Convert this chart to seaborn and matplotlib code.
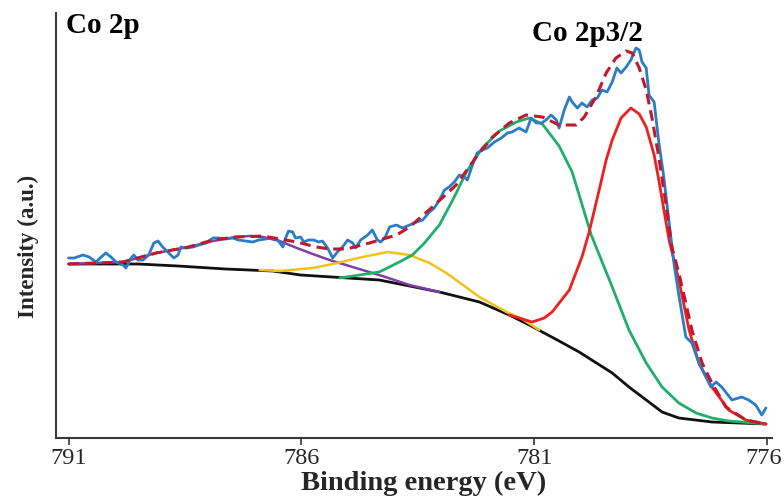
import matplotlib
matplotlib.use("Agg")
import matplotlib.pyplot as plt
import matplotlib.transforms as mtransforms
import pandas as pd
import seaborn as sns

# Co 2p XPS spectrum: binding energy (eV) and intensity (a.u.)
raw_energy = [791.00, 790.88, 790.69, 790.56, 790.41, 790.30, 790.20, 790.09, 789.98, 789.83,
              789.77, 789.66, 789.60, 789.51, 789.40, 789.28, 789.17, 789.08, 788.98, 788.87,
              788.74, 788.65, 788.59, 788.48, 788.33, 788.20, 788.05, 787.90, 787.78, 787.63,
              787.48, 787.35, 787.20, 787.05, 786.92, 786.77, 786.62, 786.51, 786.40, 786.34,
              786.28, 786.19, 786.13, 786.02, 785.95, 785.85, 785.74, 785.63, 785.55, 785.44,
              785.33, 785.23, 785.12, 785.01, 784.90, 784.84, 784.73, 784.58, 784.48, 784.37,
              784.30, 784.20, 784.11, 783.96, 783.83, 783.68, 783.53, 783.40, 783.25, 783.15,
              783.04, 782.93, 782.83, 782.72, 782.61, 782.50, 782.44, 782.33, 782.23, 782.12,
              782.01, 781.86, 781.71, 781.58, 781.48, 781.33, 781.18, 781.07, 780.96, 780.85,
              780.75, 780.64, 780.53, 780.47, 780.36, 780.25, 780.19, 780.08, 779.98, 779.87,
              779.76, 779.65, 779.55, 779.44, 779.33, 779.23, 779.14, 779.03, 778.93, 778.82,
              778.75, 778.69, 778.60, 778.54, 778.43, 778.33, 778.22, 778.11, 778.00, 777.90,
              777.75, 777.62, 777.47, 777.32, 777.21, 777.10, 776.98, 776.76, 776.55, 776.40,
              776.25, 776.12, 776.03]
raw_counts = [180, 180, 183, 181, 176, 181, 185, 181, 176, 173,
              170, 180, 183, 178, 178, 183, 195, 197, 191, 186,
              180, 183, 191, 190, 191, 193, 195, 200, 200, 199,
              200, 198, 197, 196, 198, 199, 200, 198, 191, 200,
              207, 206, 200, 201, 196, 198, 198, 196, 197, 190,
              180, 186, 191, 198, 195, 190, 198, 203, 208, 198,
              196, 201, 211, 213, 210, 213, 216, 218, 226, 230,
              238, 248, 251, 256, 263, 261, 258, 273, 285, 288,
              290, 296, 300, 305, 306, 310, 306, 320, 315, 315,
              318, 323, 318, 310, 328, 341, 336, 330, 335, 331,
              338, 340, 348, 346, 356, 370, 365, 371, 378, 390,
              388, 376, 370, 343, 336, 296, 260, 216, 173, 143,
              101, 95, 75, 61, 51, 56, 51, 38, 41, 38,
              33, 23, 30]

# fitted envelope
fit_energy = [791.00, 789.83, 789.12, 788.42, 787.90, 787.41, 786.83, 786.10, 785.68, 785.40,
              785.03, 784.54, 783.96, 783.68, 783.19, 782.68, 782.25, 781.90, 781.54, 781.18,
              780.83, 780.47, 780.10, 779.93, 779.68, 779.46, 779.25, 779.03, 778.90, 778.75,
              778.60, 778.48, 778.33, 778.18, 778.05, 777.90, 777.75, 777.62, 777.40, 777.19,
              776.89, 776.46, 776.03]
fit_counts = [174, 176, 185, 191, 198, 201, 202, 196, 191, 189,
              189, 195, 203, 211, 231, 253, 281, 301, 315, 323,
              321, 313, 313, 321, 341, 365, 380, 387, 385, 370,
              348, 321, 281, 235, 191, 165, 135, 108, 75, 55,
              31, 18, 14]

# Shirley background
bg_energy = [791.00, 789.51, 788.65, 787.63, 786.62, 786.02, 785.01, 784.33, 783.68, 783.04,
             782.18, 781.54, 781.11, 780.47, 780.04, 779.33, 778.97, 778.60, 778.43, 778.26,
             777.90, 777.19, 776.61, 776.03]
bg_counts = [174, 174, 172, 169, 167, 163, 160, 158, 152, 146,
             136, 123, 113, 97, 86, 65, 51, 38, 32, 26,
             20, 16, 15, 14]

# Co2+ main line (red)
p1_energy = [781.54, 781.26, 781.05, 780.79, 780.62, 780.25, 779.98, 779.83, 779.61, 779.46,
             779.33, 779.14, 778.93, 778.75, 778.60, 778.43, 778.33, 778.22, 778.11, 777.90,
             777.68, 777.47, 777.19, 776.83, 776.46, 776.03]
p1_counts = [123, 119, 116, 120, 126, 148, 181, 205, 248, 278,
             298, 320, 330, 324, 311, 283, 258, 228, 198, 158,
             108, 75, 51, 28, 18, 14]

# second component (green)
p2_energy = [785.18, 784.33, 783.90, 783.62, 783.36, 783.04, 782.72, 782.46, 782.12, 781.75,
             781.39, 781.11, 780.83, 780.47, 780.19, 780.04, 779.78, 779.33, 778.97, 778.60,
             778.26, 777.90, 777.53, 777.19, 776.83, 776.03]
p2_counts = [160, 166, 176, 183, 195, 213, 241, 266, 290, 307,
             316, 320, 314, 292, 266, 243, 203, 151, 108, 75,
             51, 35, 25, 20, 17, 14]

# shake-up satellite (yellow)
p3_energy = [786.90, 786.47, 785.76, 785.33, 784.69, 784.15, 783.68, 783.25, 782.89, 782.18,
             781.60, 781.26, 780.90]
p3_counts = [168, 167, 170, 174, 181, 186, 183, 175, 165, 141,
             126, 119, 108]

# broad satellite (purple)
p4_energy = [791.00, 789.83, 789.12, 788.42, 787.90, 787.41, 787.11, 786.83, 786.47, 786.10,
             785.76, 785.40, 784.69, 784.20, 783.68, 783.04]
p4_counts = [174, 176, 185, 191, 197, 201, 202, 201, 197, 190,
             184, 178, 168, 161, 153, 146]

x_ticks = [791, 786, 781, 776]

sns.set_theme(style="ticks")
plt.rcParams["font.family"] = ["Liberation Serif", "DejaVu Serif"]

fig = plt.figure(figsize=(7.84, 4.98), dpi=100)
ax = fig.add_axes([56 / 784, 60 / 498, 716 / 784, 425 / 498])

series = [
    (bg_energy, bg_counts, "#111111", 2.0),
    (p4_energy, p4_counts, "#7E3FA8", 1.8),
    (p3_energy, p3_counts, "#F2C21B", 1.8),
    (p2_energy, p2_counts, "#1FAF6A", 2.0),
    (p1_energy, p1_counts, "#F01E1E", 2.0),
    (raw_energy, raw_counts, "#2A7DC4", 2.0),
]
for ex, ey, col, lw in series:
    df = pd.DataFrame({"energy": ex, "intensity": ey})
    sns.lineplot(data=df, x="energy", y="intensity", ax=ax, color=col,
                 linewidth=lw, sort=False, estimator=None)
    ax.lines[-1].set_solid_joinstyle("round")

fit_df = pd.DataFrame({"energy": fit_energy, "intensity": fit_counts})
sns.lineplot(data=fit_df, x="energy", y="intensity", ax=ax, color="#C0182E",
             linewidth=2.2, sort=False, estimator=None)
ax.lines[-1].set_dashes([3.5, 2])

ax.set_xlim(791.27, 775.9)
ax.set_ylim(0, 425)
ax.set_xticks(x_ticks)
ax.set_xticklabels([str(t) for t in x_ticks], fontsize=17.5)
ax.set_yticks([])
ax.tick_params(axis="x", length=5, width=1.2, color="#333333", pad=2)

# keep the last tick label inside the figure edge
last = ax.get_xticklabels()[-1]
last.set_transform(last.get_transform() +
                   mtransforms.ScaledTranslation(-4 / 100, 0, fig.dpi_scale_trans))

for side in ("top", "right"):
    ax.spines[side].set_visible(False)
for side in ("left", "bottom"):
    ax.spines[side].set_color("#3a3a3a")
    ax.spines[side].set_linewidth(1.5)

ax.set_xlabel("Binding energy (eV)", fontsize=20.5, fontweight="bold")
ax.xaxis.set_label_coords(0.514, -0.077)
ax.xaxis.label.set_va("top")
ax.set_ylabel("Intensity (a.u.)", fontsize=16.5, fontweight="bold")
ax.yaxis.set_label_coords(-0.039, 0.45)
ax.yaxis.label.set_va("center")

ax.text(0.014, 0.970, "Co 2p", transform=ax.transAxes, fontsize=21,
        fontweight="bold", ha="left", va="center", color="black")
ax.text(0.742, 0.952, "Co 2p3/2", transform=ax.transAxes, fontsize=21,
        fontweight="bold", ha="center", va="center", color="black")

fig.savefig("out.png", dpi=100)
